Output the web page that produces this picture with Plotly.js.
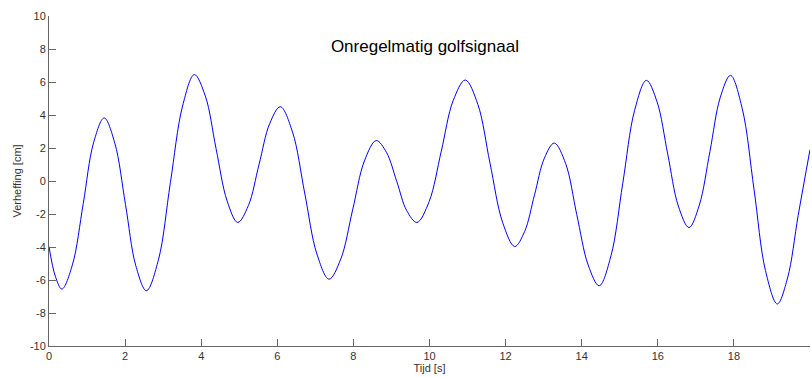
<!DOCTYPE html>
<html>
<head>
<meta charset="utf-8">
<script src="https://cdn.plot.ly/plotly-3.0.1.min.js"></script>
<style>html,body{margin:0;padding:0;background:#fff;}#chart{width:812px;height:378px;}</style>
</head>
<body>
<div id="chart"></div>
<script>
// Time (s) and elevation (cm)
const tijd = [0, 0.17, 0.34, 0.62, 0.90, 1.17, 1.45, 1.73, 2.01, 2.28, 2.56, 2.88, 3.19, 3.51, 3.82, 4.11, 4.39, 4.68, 4.96,
  5.24, 5.52, 5.80, 6.08, 6.40, 6.72, 7.04, 7.36, 7.67, 7.98, 8.29, 8.60, 8.87, 9.14, 9.40, 9.67, 9.99, 10.31, 10.62, 10.94,
  11.27, 11.59, 11.92, 12.24, 12.50, 12.76, 13.02, 13.28, 13.58, 13.87, 14.17, 14.46, 14.77, 15.08, 15.39, 15.70,
  15.98, 16.26, 16.54, 16.82, 17.09, 17.37, 17.64, 17.91, 18.22, 18.53, 18.83, 19.14, 19.41, 19.69, 20];
const verheffing = [-3.97, -5.8, -6.55, -5.04, -1.37, 2.31, 3.82, 2.29, -1.42, -5.12, -6.65, -4.74, -0.10, 4.54, 6.45, 5.14, 1.97, -1.20, -2.51,
  -1.49, 1.0, 3.48, 4.5, 2.97, -0.73, -4.42, -5.95, -4.72, -1.75, 1.22, 2.45, 1.73, -0.03, -1.79, -2.51, -1.25, 1.81, 4.86, 6.12,
  4.65, 1.08, -2.50, -3.97, -3.06, -0.84, 1.39, 2.3, 1.04, -2.03, -5.09, -6.35, -4.53, -0.13, 4.28, 6.1,
  4.80, 1.64, -1.52, -2.82, -1.47, 1.79, 5.05, 6.4, 4.38, -0.53, -5.43, -7.45, -5.88, -2.08, 1.9];
const xTicks = [0, 2, 4, 6, 8, 10, 12, 14, 16, 18, 20];
const yTicks = [-10, -8, -6, -4, -2, 0, 2, 4, 6, 8, 10];

const trace = {
  x: tijd, y: verheffing, type: 'scatter', mode: 'lines',
  line: {color: '#0000ff', width: 1, shape: 'spline', smoothing: 1},
  hoverinfo: 'skip'
};
const axisCommon = {
  showline: true, linecolor: '#666', linewidth: 1,
  ticks: 'inside', ticklen: 7, tickcolor: '#666', tickwidth: 1,
  showgrid: false, zeroline: false, mirror: false,
  tickfont: {family: 'Liberation Sans, Arial, sans-serif', size: 11, color: '#333'},
  tickmode: 'array'
};
const layout = {
  width: 812, height: 378,
  margin: {l: 49, r: 2, t: 16, b: 32},
  paper_bgcolor: '#fff', plot_bgcolor: '#fff',
  showlegend: false,
  title: {text: 'Onregelmatig golfsignaal', x: 0.494, xref: 'paper', xanchor: 'center', y: 0.879, yref: 'container', yanchor: 'middle',
          font: {family: 'Liberation Sans, Arial, sans-serif', size: 17, color: '#000'}},
  xaxis: Object.assign({}, axisCommon, {range: [0, 20], tickvals: xTicks, ticktext: xTicks.map(String),
          title: {text: 'Tijd [s]', standoff: 2, font: {family: 'Liberation Sans, Arial, sans-serif', size: 11, color: '#333'}}}),
  yaxis: Object.assign({}, axisCommon, {range: [-10, 10], tickvals: yTicks, ticktext: yTicks.map(String),
          title: {text: 'Verheffing [cm]', standoff: 6, font: {family: 'Liberation Sans, Arial, sans-serif', size: 11, color: '#333'}}})
};
Plotly.newPlot('chart', [trace], layout, {displayModeBar: false, staticPlot: true});
</script>
</body>
</html>
